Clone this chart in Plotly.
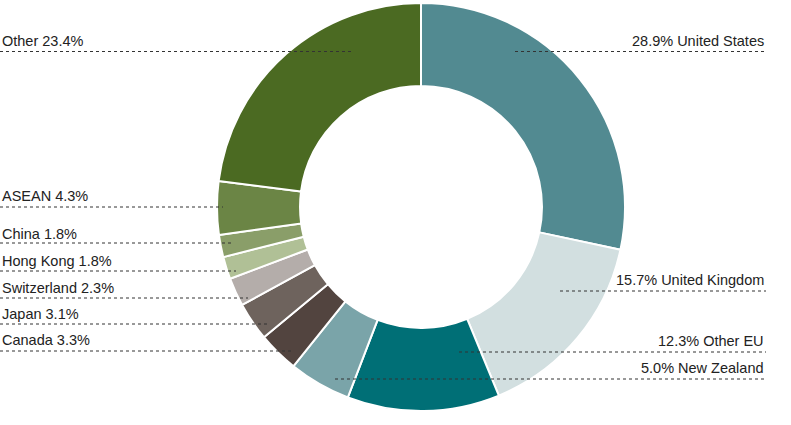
import plotly.graph_objects as go

W, H = 791, 425

# ---- data (clockwise from 12 o'clock) ----
regions = ["United States", "United Kingdom", "Other EU", "New Zealand", "Canada",
           "Japan", "Switzerland", "Hong Kong", "China", "ASEAN", "Other"]
shares = [28.9, 15.7, 12.3, 5.0, 3.3, 3.1, 2.3, 1.8, 1.8, 4.3, 23.4]
colors = ["#528a91", "#d2dfe0", "#006f76", "#7aa4a9", "#52443f", "#6e635d",
          "#b4adaa", "#b0c096", "#8a9e69", "#6b8545", "#4b6a22"]

# label side, text centre y (px), leader line y (px), leader line inner end x (px)
label_side = ["right", "right", "right", "right", "left", "left", "left", "left", "left", "left", "left"]
text_y = [40, 279, 339.5, 367, 339, 313, 287, 260, 233, 195, 40]
line_y = [51.5, 291, 352, 379, 351, 324, 298, 271, 243, 207, 51.5]
line_x = [515, 560, 459, 335, 293, 269, 248, 236, 232, 223, 351]

TEXT_L, TEXT_R = 0, 766
FONT = dict(size=14.5, color="#222222", family="Liberation Sans, Arial, sans-serif")

def px(x):
    return x / W

def py(y):
    return 1 - y / H

cx, cy, R = 421, 207, 204

fig = go.Figure(go.Pie(
    labels=regions,
    values=shares,
    marker=dict(colors=colors, line=dict(color="white", width=2)),
    hole=0.593,
    sort=False,
    direction="clockwise",
    rotation=0,
    textinfo="none",
    hoverinfo="label+value",
    showlegend=False,
    domain=dict(x=[px(cx - R), px(cx + R)], y=[py(cy + R), py(cy - R)]),
))

annotations = []
shapes = []
for name, val, side, ty, ly, lx in zip(regions, shares, label_side, text_y, line_y, line_x):
    if side == "right":
        txt = f"{val:.1f}% {name}"
        annotations.append(dict(x=px(TEXT_R), y=py(ty + 1), xref="paper", yref="paper",
                                text=txt, showarrow=False, xanchor="right", yanchor="middle",
                                font=FONT))
        shapes.append(dict(type="line", xref="paper", yref="paper",
                           x0=px(lx), x1=px(TEXT_R), y0=py(ly), y1=py(ly),
                           line=dict(color="#333333", width=1, dash="dot")))
    else:
        txt = f"{name} {val:.1f}%"
        annotations.append(dict(x=px(TEXT_L), y=py(ty + 1), xref="paper", yref="paper",
                                text=txt, showarrow=False, xanchor="left", yanchor="middle",
                                font=FONT))
        shapes.append(dict(type="line", xref="paper", yref="paper",
                           x0=px(TEXT_L), x1=px(lx), y0=py(ly), y1=py(ly),
                           line=dict(color="#333333", width=1, dash="dot")))

fig.update_layout(
    width=W, height=H,
    margin=dict(l=0, r=0, t=0, b=0),
    paper_bgcolor="white",
    plot_bgcolor="white",
    annotations=annotations,
    shapes=shapes,
)

fig.write_html("out.html", config={"displayModeBar": False},
               post_script="document.body.style.margin='0';")
